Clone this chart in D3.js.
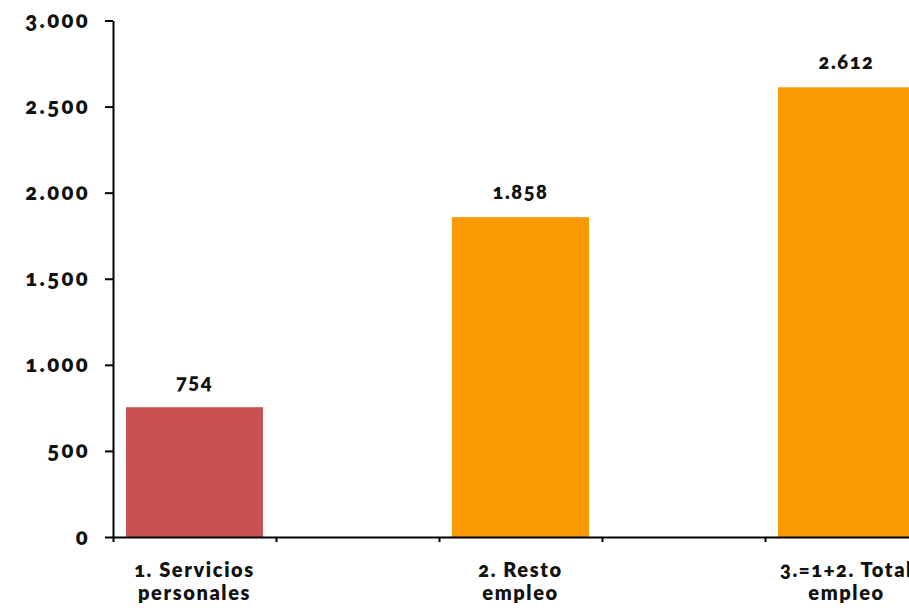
<!DOCTYPE html>
<html>
<head>
<meta charset="utf-8">
<script src="https://cdn.jsdelivr.net/npm/d3@7"></script>
<style>
  html, body { margin: 0; padding: 0; background: #fff; }
  svg { display: block; }
  text { font-family: "Lato", "Open Sans", sans-serif; font-weight: 800; fill: #111; font-variant-numeric: oldstyle-nums; }
</style>
</head>
<body>
<svg id="chart" width="909" height="610"></svg>
<script>
// Empleo por tipo de actividad
const categories = ["1. Servicios personales", "2. Resto empleo", "3.=1+2. Total empleo"];
const values = [754, 1858, 2612];
const yTicks = [0, 500, 1000, 1500, 2000, 2500, 3000];

// Each category sits in every other slot of the horizontal axis
const slots = ["c0", "s0", "c1", "s1", "c2"];
const slotOf = i => "c" + i;

const barColor = i => (i === 0 ? "#C65150" : "#FB9900");

const svg = d3.select("#chart");
const plotLeft = 113, plotRight = 928, plotTop = 20.5, plotBottom = 537;

const x = d3.scaleBand().domain(slots).range([plotLeft, plotRight]).paddingInner(0.16).paddingOuter(0.08);
const xEdges = d3.scaleLinear().domain([0, slots.length]).range([plotLeft, plotRight]);
const y = d3.scaleLinear().domain([0, 3000]).range([plotBottom, plotTop]);

const es = d3.formatLocale({ decimal: ",", thousands: ".", grouping: [3], currency: ["", " €"] });
const fmt = es.format(",d");

// Bars
svg.append("g").selectAll("rect")
  .data(values)
  .join("rect")
  .attr("x", (d, i) => x(slotOf(i)))
  .attr("width", x.bandwidth())
  .attr("y", d => y(d))
  .attr("height", d => y(0) - y(d))
  .attr("fill", (d, i) => barColor(i));

// Value labels
svg.append("g").selectAll("text")
  .data(values)
  .join("text")
  .attr("x", (d, i) => x(slotOf(i)) + x.bandwidth() / 2)
  .attr("y", d => y(d) - 18)
  .attr("text-anchor", "middle")
  .style("font-size", "20px")
  .style("letter-spacing", "1.6px")
  .text(d => fmt(d));

// Y axis
const yAxis = svg.append("g")
  .attr("transform", `translate(${plotLeft},0)`)
  .call(d3.axisLeft(y).tickValues(yTicks).tickFormat(fmt).tickSize(8).tickSizeOuter(0).tickPadding(15));
yAxis.select(".domain").attr("stroke", "#000").attr("stroke-width", 2);
yAxis.selectAll(".tick line").attr("stroke", "#000").attr("stroke-width", 2);
yAxis.selectAll(".tick text")
  .style("font-size", "22px")
  .style("letter-spacing", "2.4px")
  .style("font-family", "Lato, 'Open Sans', sans-serif")
  .attr("fill", "#111");

// X axis with ticks at slot boundaries
const xAxis = svg.append("g")
  .attr("transform", `translate(0,${plotBottom})`)
  .call(d3.axisBottom(xEdges).tickValues(d3.range(slots.length + 1)).tickFormat("").tickSize(5).tickSizeOuter(0));
xAxis.select(".domain").attr("stroke", "#000").attr("stroke-width", 2);
xAxis.selectAll(".tick line").attr("stroke", "#000").attr("stroke-width", 2);

// Category labels, two lines each
const cat = svg.append("g").selectAll("text")
  .data(categories)
  .join("text")
  .attr("x", (d, i) => x(slotOf(i)) + x.bandwidth() / 2)
  .attr("y", 577)
  .attr("text-anchor", "middle")
  .style("font-size", "20px")
  .style("letter-spacing", "1.6px");
cat.each(function (d) {
  const k = d.lastIndexOf(" ");
  const lines = [d.slice(0, k), d.slice(k + 1)];
  d3.select(this).selectAll("tspan")
    .data(lines)
    .join("tspan")
    .attr("x", d3.select(this).attr("x"))
    .attr("dy", (l, j) => (j === 0 ? 0 : 23))
    .text(l => l);
});
</script>
</body>
</html>
